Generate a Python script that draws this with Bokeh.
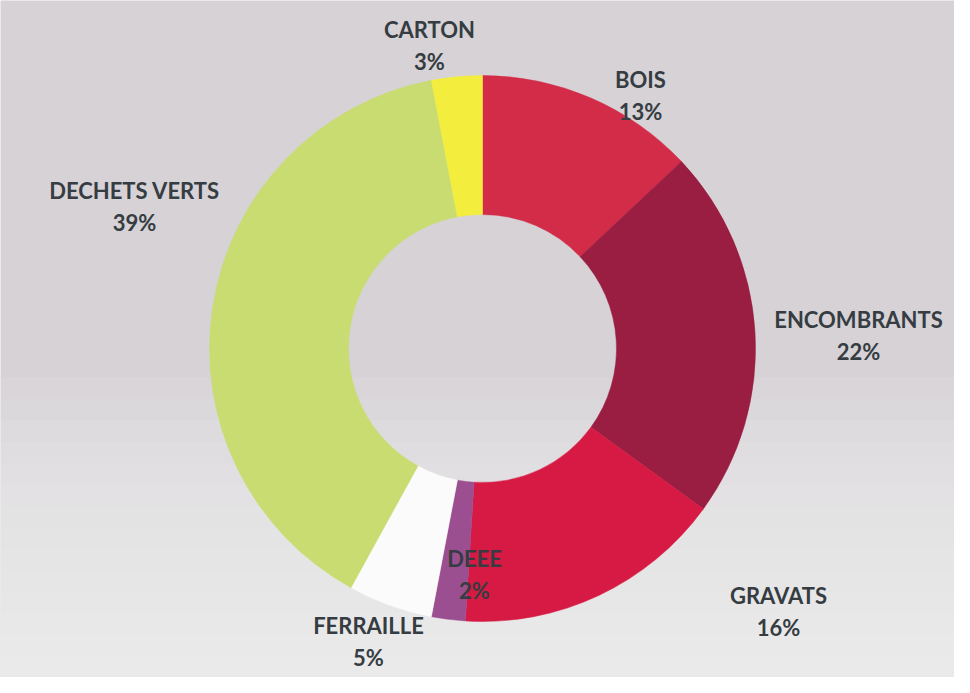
import numpy as np
from bokeh.plotting import figure
from bokeh.models import ColumnDataSource, Range1d
from bokeh.core.properties import value
from bokeh.embed import file_html
from bokeh.resources import INLINE

# ---- data (clockwise from 12 o'clock) ----
categories = ["BOIS", "ENCOMBRANTS", "GRAVATS", "DEEE", "FERRAILLE", "DECHETS VERTS", "CARTON"]
percents = [13, 22, 16, 2, 5, 39, 3]
colors = ["#d22c48", "#9a1d42", "#d61a43", "#9c4f90", "#fbfbfb", "#c9dc72", "#f3ee3e"]

# ---- layout ----
W, H = 954, 677
CX, CY = 482, 329          # donut centre (data units = pixels)
R_OUT, R_IN = 273, 134
# label centre positions (pixel coords of the page image)
label_px = [(648, 103), (866, 343), (786, 619), (482, 582), (376, 649), (142, 214), (437, 53)]
LINE_GAP = 32

vals = np.array(percents, dtype=float)
frac = vals / vals.sum()
ends = np.cumsum(frac)
starts = ends - frac
start_angle = np.pi / 2 - 2 * np.pi * starts
end_angle = np.pi / 2 - 2 * np.pi * ends

src = ColumnDataSource(dict(
    x=[CX] * len(categories), y=[CY] * len(categories),
    start=start_angle, end=end_angle, color=colors, cat=categories,
))

p = figure(width=W, height=H, output_backend="svg", toolbar_location=None,
           x_range=Range1d(0, W), y_range=Range1d(0, H), min_border=0,
           background_fill_color="#d6d2d6", border_fill_color="#d6d2d6")
p.axis.visible = False
p.grid.visible = False
p.outline_line_color = None

# soft lightening toward the bottom, like the scan
nb = 14
band_top = 300
edges = np.linspace(0, band_top, nb + 1)
for i in range(nb):
    p.quad(left=0, right=W, bottom=0, top=edges[i + 1], fill_color="#f3f1f4",
           fill_alpha=0.1, line_color=None)

p.annular_wedge(x="x", y="y", inner_radius=R_IN, outer_radius=R_OUT,
                start_angle="start", end_angle="end", direction="clock",
                fill_color="color", line_color="color", line_width=0.5, source=src)

lx = [px - 8 for px, py in label_px]
ly = [H - (py - 8) for px, py in label_px]
name_src = ColumnDataSource(dict(x=lx, y=[v + LINE_GAP / 2 for v in ly], t=categories))
pct_src = ColumnDataSource(dict(x=lx, y=[v - LINE_GAP / 2 for v in ly], t=[f"{v}%" for v in percents]))
for s in (name_src, pct_src):
    p.text(x="x", y="y", text="t", source=s, text_align="center", text_baseline="middle",
           text_font=value("Lato"), text_font_style="bold", text_font_size="22px",
           text_color="#353c42")

open("out.html", "w").write(file_html(p, INLINE))
